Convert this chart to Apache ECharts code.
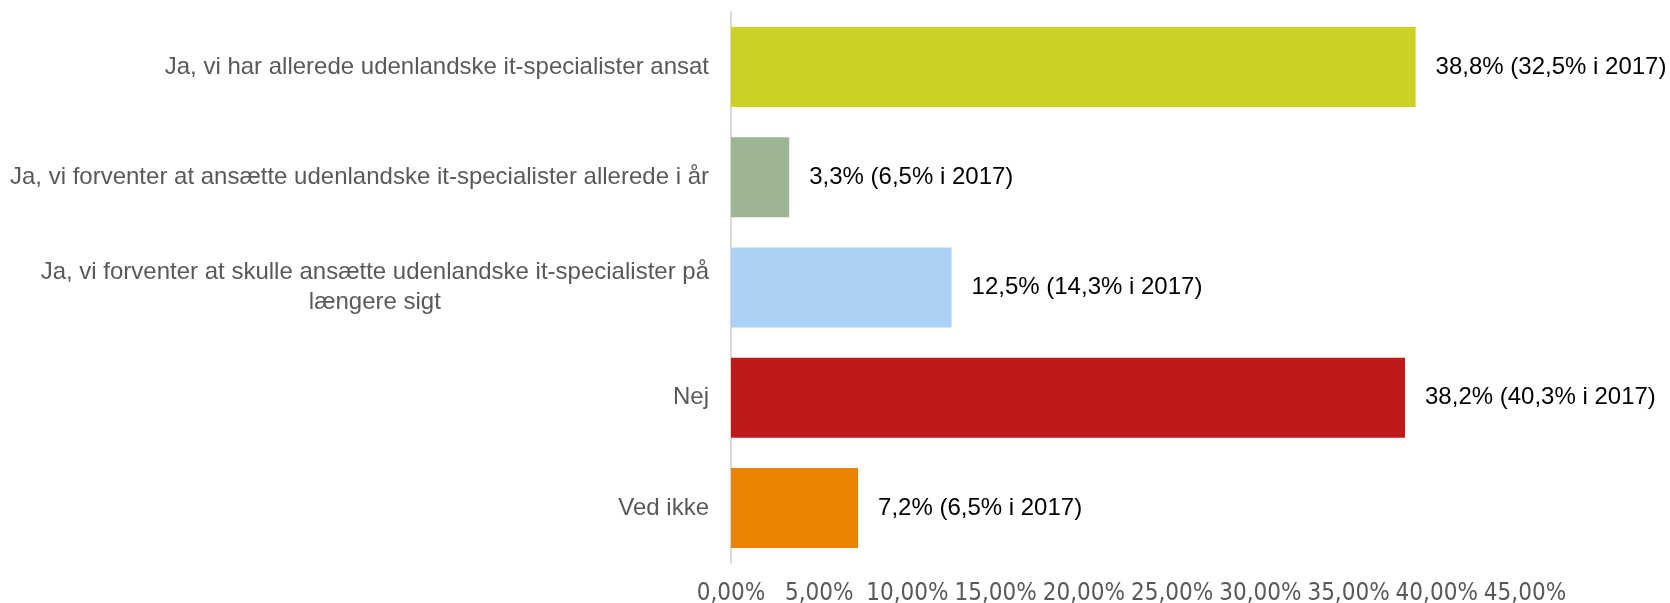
<!DOCTYPE html>
<html>
<head>
<meta charset="utf-8">
<script src="https://cdn.jsdelivr.net/npm/echarts@6/dist/echarts.min.js"></script>
<style>
	html, body { margin: 0; padding: 0; background: #fff; }
	#chart { width: 1670px; height: 603px; }
</style>
</head>
<body>
<div id="chart"></div>
<script>
	// svar (kategorier) og andele
	var categories = [
		'Ja, vi har allerede udenlandske it-specialister ansat',
		'Ja, vi forventer at ansætte udenlandske it-specialister allerede i år',
		'Ja, vi forventer at skulle ansætte udenlandske it-specialister på\nlængere sigt',
		'Nej',
		'Ved ikke'
	];
	var values2018 = [38.8, 3.3, 12.5, 38.2, 7.2];
	var values2017 = [32.5, 6.5, 14.3, 40.3, 6.5];
	var barColors = ['#cbd224', '#9db594', '#abd1f4', '#c0191a', '#e98300'];

	var FONT = 'Liberation Sans, Arial, sans-serif';
	var NARROW = '"Liberation Sans Narrow", "Arial Narrow", "DejaVu Sans Condensed", sans-serif';

	function pct(v, d) {
		return v.toFixed(d).replace('.', ',') + '%';
	}

	var chart = echarts.init(document.getElementById('chart'));
	chart.setOption({
		backgroundColor: '#fff',
		animation: false,
		grid: {
			left: 731,
			right: 145,
			top: 12,
			bottom: 40,
			outerBoundsMode: 'none'
		},
		xAxis: {
			type: 'value',
			min: 0,
			max: 45,
			interval: 5,
			axisLine: { show: false },
			axisTick: { show: false },
			splitLine: { show: false },
			axisLabel: {
				margin: 19,
				color: '#595959',
				fontSize: 24,
				fontFamily: NARROW,
				formatter: function (v) { return pct(v, 2); }
			}
		},
		yAxis: {
			type: 'category',
			inverse: true,
			data: categories,
			axisLine: { show: true, lineStyle: { color: '#d9d9d9', width: 2 } },
			axisTick: { show: false },
			axisLabel: {
				margin: 22,
				color: '#595959',
				fontSize: 24,
				fontFamily: FONT,
				lineHeight: 30,
				// anden linje centreres under første linje
				formatter: function (v) {
					var lines = v.split('\n');
					if (lines.length === 1) return v;
					var out = '{a|' + lines[0] + '}';
					for (var i = 1; i < lines.length; i++) {
						out += '\n{c|' + lines[i] + '}';
					}
					return out;
				},
				rich: {
					a: { fontSize: 24, fontFamily: FONT, color: '#595959', lineHeight: 30 },
					c: { fontSize: 24, fontFamily: FONT, color: '#595959', lineHeight: 30, align: 'center', width: 667 }
				}
			}
		},
		series: [{
			type: 'bar',
			barWidth: 80,
			data: values2018.map(function (v, i) {
				return { value: v, itemStyle: { color: barColors[i] } };
			}),
			label: {
				show: true,
				position: 'right',
				distance: 20,
				color: '#000',
				fontSize: 24,
				fontFamily: FONT,
				formatter: function (p) {
					return pct(p.value, 1) + ' (' + pct(values2017[p.dataIndex], 1) + ' i 2017)';
				}
			}
		}]
	});
</script>
</body>
</html>
